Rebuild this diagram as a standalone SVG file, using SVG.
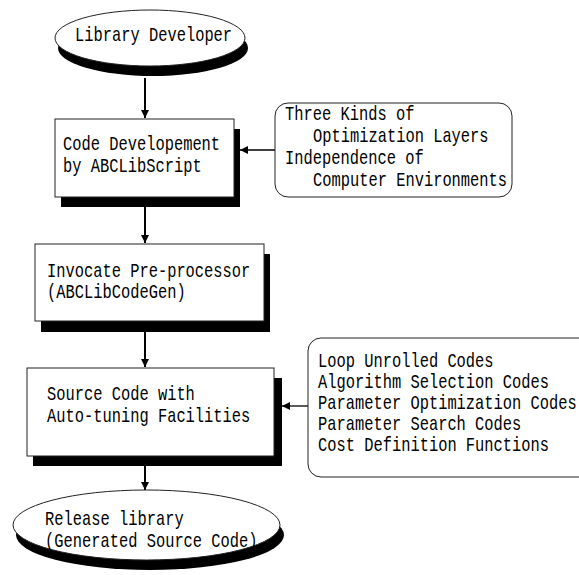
<svg xmlns="http://www.w3.org/2000/svg" width="579" height="575" viewBox="0 0 579 575">
<defs>
<style>
.t{font-family:"Liberation Mono","DejaVu Sans Mono",monospace;font-size:15.4px;fill:#000}
.box{fill:#fff;stroke:#222;stroke-width:1}
.sh{fill:#000}
.conn{stroke:#000;fill:none}
</style>
<marker id="ah" viewBox="0 0 10 10" refX="10" refY="5" markerWidth="8" markerHeight="8" markerUnits="userSpaceOnUse" orient="auto">
<path d="M0,0 L10,5 L0,10 z" fill="#000"/>
</marker>
</defs>
<rect width="579" height="575" fill="#fff"/>

<g id="connectors">
<line class="conn" stroke-width="2" x1="145" y1="78" x2="145" y2="118" marker-end="url(#ah)"/>
<line class="conn" stroke-width="1.3" x1="275" y1="150" x2="240" y2="150" marker-end="url(#ah)"/>
<line class="conn" stroke-width="2" x1="145" y1="207" x2="145" y2="243" marker-end="url(#ah)"/>
<line class="conn" stroke-width="2" x1="145" y1="332" x2="145" y2="367" marker-end="url(#ah)"/>
<line class="conn" stroke-width="1.3" x1="308" y1="406" x2="282" y2="406" marker-end="url(#ah)"/>
<line class="conn" stroke-width="2" x1="145" y1="466" x2="145" y2="490" marker-end="url(#ah)"/>
</g>

<g id="library-developer">
<ellipse class="sh" cx="153" cy="48" rx="95" ry="28"/>
<ellipse class="box" cx="150" cy="38" rx="95" ry="28"/>
<text class="t" transform="translate(75,41) scale(1,1.3)">Library Developer</text>
</g>

<g id="code-development">
<rect class="sh" x="61" y="129" width="179" height="78"/>
<rect class="box" x="55" y="119" width="179" height="78"/>
<text class="t" transform="translate(63,150) scale(1,1.3)">Code Developement</text>
<text class="t" transform="translate(63,172) scale(1,1.3)">by ABCLibScript</text>
</g>

<g id="features">
<rect class="box" x="275" y="103" width="237" height="94" rx="13" ry="13"/>
<text class="t" transform="translate(285,120) scale(1,1.3)">Three Kinds of</text>
<text class="t" transform="translate(313,142) scale(1,1.3)">Optimization Layers</text>
<text class="t" transform="translate(285,164) scale(1,1.3)">Independence of</text>
<text class="t" transform="translate(313,186) scale(1,1.3)">Computer Environments</text>
</g>

<g id="preprocessor">
<rect class="sh" x="41" y="254" width="229" height="78"/>
<rect class="box" x="35" y="244" width="229" height="77"/>
<text class="t" transform="translate(47,277) scale(1,1.3)">Invocate Pre-processor</text>
<text class="t" transform="translate(47,298) scale(1,1.3)">(ABCLibCodeGen)</text>
</g>

<g id="source-code">
<rect class="sh" x="33" y="378" width="249" height="88"/>
<rect class="box" x="27" y="368" width="247" height="88"/>
<text class="t" transform="translate(47,400) scale(1,1.3)">Source Code with</text>
<text class="t" transform="translate(47,422) scale(1,1.3)">Auto-tuning Facilities</text>
</g>

<g id="generated-codes">
<rect class="box" x="308" y="338" width="290" height="139" rx="13" ry="13"/>
<text class="t" transform="translate(318,367) scale(1,1.3)">Loop Unrolled Codes</text>
<text class="t" transform="translate(318,388) scale(1,1.3)">Algorithm Selection Codes</text>
<text class="t" transform="translate(318,409) scale(1,1.3)">Parameter Optimization Codes</text>
<text class="t" transform="translate(318,430) scale(1,1.3)">Parameter Search Codes</text>
<text class="t" transform="translate(318,451) scale(1,1.3)">Cost Definition Functions</text>
</g>

<g id="release-library">
<ellipse class="sh" cx="150" cy="535" rx="134" ry="35"/>
<ellipse class="box" cx="146.5" cy="525" rx="133.5" ry="35"/>
<text class="t" transform="translate(45,525) scale(1,1.3)">Release library</text>
<text class="t" transform="translate(45,547) scale(1,1.3)">(Generated Source Code)</text>
</g>
</svg>
